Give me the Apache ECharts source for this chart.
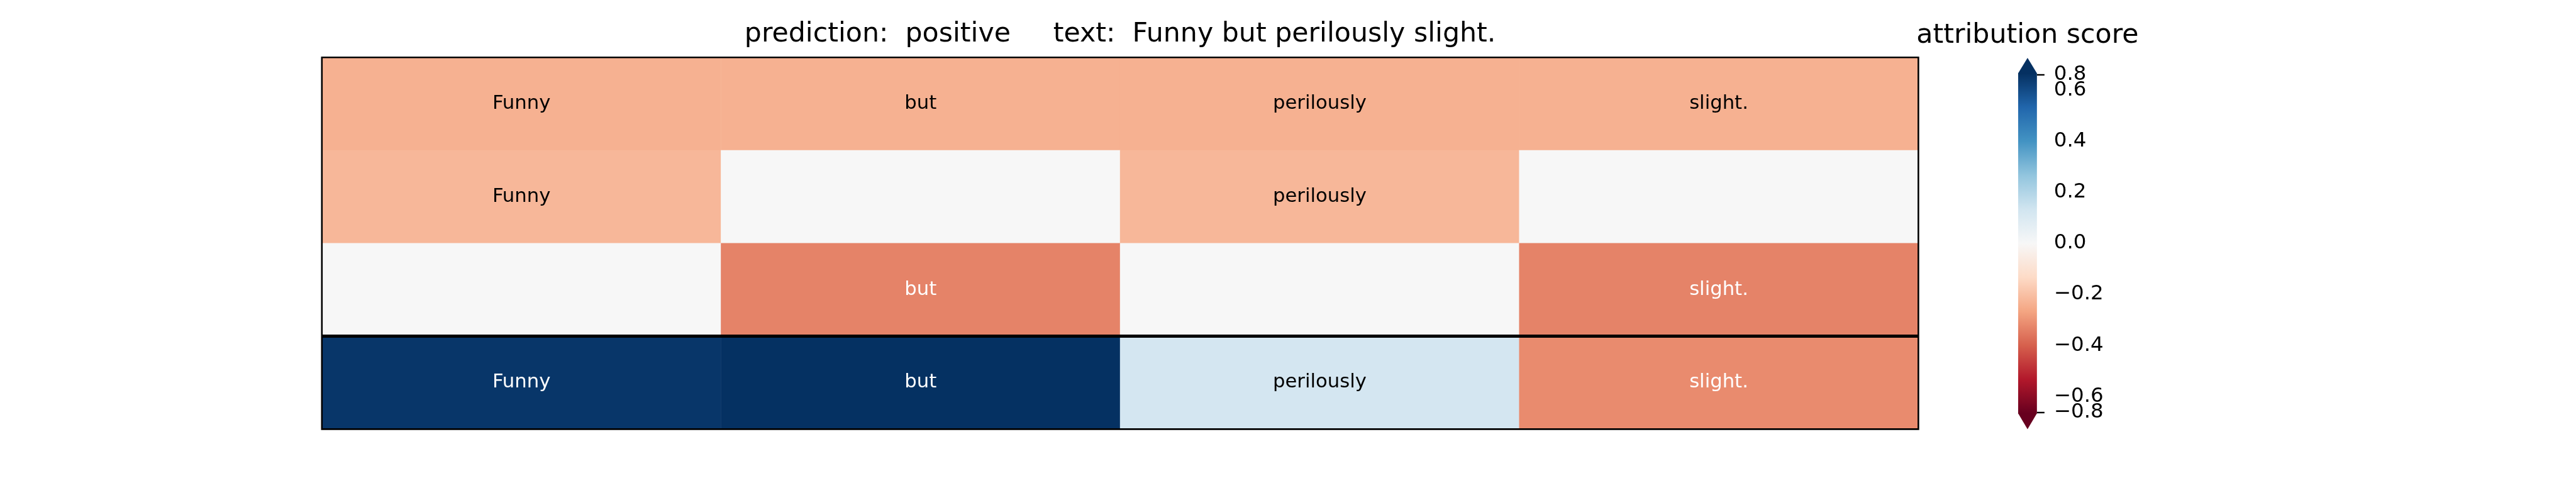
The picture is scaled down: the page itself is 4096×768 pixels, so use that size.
<!DOCTYPE html>
<html>
<head>
<meta charset="utf-8">
<script src="https://cdn.jsdelivr.net/npm/echarts@6/dist/echarts.min.js"></script>
<style>
html,body{margin:0;padding:0;background:#fff;}
#main{width:4096px;height:768px;}
</style>
</head>
<body>
<div id="main"></div>
<script>
// ---- data ----
const columns = ['0', '1', '2', '3'];
const rows = ['0', '1', '2', '3'];
const rowTokens = [
  ['Funny', 'but', 'perilously', 'slight.'],
  ['Funny', '', 'perilously', ''],
  ['', 'but', '', 'slight.'],
  ['Funny', 'but', 'perilously', 'slight.']
];
const rowScores = [
  [-0.237, -0.237, -0.237, -0.237],
  [-0.222, 0.0, -0.222, 0.0],
  [0.0, -0.332, 0.0, -0.332],
  [0.652, 0.665, 0.123, -0.317]
];
const colorbarTicks = [-0.8, -0.6, -0.4, -0.2, 0.0, 0.2, 0.4, 0.6, 0.8];
const titleText = 'prediction:  positive     text:  Funny but perilously slight.';
const colorbarTitle = 'attribution score';
const normMax = 0.667;
// RdBu colormap (low -> high)
const rdbu = ['#67001f', '#b2182b', '#d6604d', '#f4a582', '#fddbc7', '#f7f7f7',
  '#d1e5f0', '#92c5de', '#4393c3', '#2166ac', '#053061'];

// ---- layout ----
const S = 0.853;
const FONT = 'DejaVu Sans';
const gL = 600 * S, gT = 107 * S, gW = (3576 - 600) * S, gH = (800 - 107) * S;
const cbL = 3762 * S, cbR = 3797 * S, cbTop = 136.6 * S, cbBot = 770.6 * S;
const cbTipTop = 108 * S, cbTipBot = 800 * S;

const heatData = [];
rowScores.forEach((r, i) => r.forEach((v, j) => heatData.push({
  value: [j, i, v], token: rowTokens[i][j],
  label: { color: Math.abs(v) > 0.3 ? '#fff' : '#000' }
})));

// ticks outside the colour range are pinned to the bar ends (as in the source)
const clampLim = 0.662;
const inTicks = colorbarTicks.filter(v => Math.abs(v) <= normMax);
const outTicks = colorbarTicks.filter(v => Math.abs(v) > normMax);
const outPos = outTicks.map(v => Math.sign(v) * clampLim);
const fmtNum = t => (t < 0 ? '\u2212' : '') + Math.abs(t).toFixed(1);
const fmtOut = v => {
  const idx = outPos.findIndex(p => Math.abs(p - v) < 1e-6);
  return fmtNum(idx >= 0 ? outTicks[idx] : v);
};

const chart = echarts.init(document.getElementById('main'));
const cbH = cbTipBot - cbTipTop;
const gradStops = [{ offset: 0, color: rdbu[10] }, { offset: (cbTop - cbTipTop) / cbH, color: rdbu[10] }];
for (let k = 10; k >= 0; k--) {
  const off = (cbTop - cbTipTop) / cbH + ((10 - k) / 10) * (cbBot - cbTop) / cbH;
  gradStops.push({ offset: off, color: rdbu[k] });
}
gradStops.push({ offset: 1, color: rdbu[0] });
const cbMid = (cbL + cbR) / 2;

const cbAxisBase = {
  type: 'value', gridIndex: 1, position: 'right', min: -normMax, max: normMax,
  axisLine: { show: false }, splitLine: { show: false }
};

chart.setOption({
  animation: false,
  backgroundColor: '#fff',
  grid: [
    { left: gL, top: gT, width: gW, height: gH, show: true, borderColor: '#000', borderWidth: 2.6, backgroundColor: 'transparent', z: 5 },
    { left: cbL, top: cbTop, width: cbR - cbL, height: cbBot - cbTop, show: false }
  ],
  xAxis: [
    { type: 'category', data: columns, gridIndex: 0, show: false },
    { type: 'value', gridIndex: 1, show: false, min: 0, max: 1 }
  ],
  yAxis: [
    { type: 'category', data: rows, gridIndex: 0, inverse: true, show: false },
    Object.assign({}, cbAxisBase, {
      axisTick: { show: true, length: 12, customValues: inTicks, lineStyle: { color: '#000', width: 2.4 } },
      axisLabel: { show: true, margin: 27, customValues: inTicks, formatter: fmtNum, hideOverlap: false, color: '#000', fontFamily: FONT, fontSize: 32.5 }
    }),
    Object.assign({}, cbAxisBase, {
      axisTick: { show: true, length: 12, customValues: outPos, lineStyle: { color: '#000', width: 2.4 } },
      axisLabel: { show: true, margin: 27, customValues: outPos, formatter: fmtOut, hideOverlap: false, showMinLabel: true, showMaxLabel: true, color: '#000', fontFamily: FONT, fontSize: 32.5 }
    })
  ],
  visualMap: {
    show: false, type: 'continuous', seriesIndex: 0, dimension: 2,
    min: -normMax, max: normMax, inRange: { color: rdbu }
  },
  series: [{
    type: 'heatmap', xAxisIndex: 0, yAxisIndex: 0, data: heatData,
    label: {
      show: true, fontFamily: FONT, fontSize: 30.7,
      formatter: p => p.data.token
    },
    itemStyle: { borderWidth: 0 },
    emphasis: { disabled: true }
  }],
  graphic: [
    {
      type: 'text', x: gL + gW / 2, y: 55, z: 10,
      style: { text: titleText, font: '42.7px "DejaVu Sans"', fill: '#000', textAlign: 'center', textVerticalAlign: 'middle' }
    },
    {
      type: 'text', x: cbMid, y: 57, z: 10,
      style: { text: colorbarTitle, font: '42.7px "DejaVu Sans"', fill: '#000', textAlign: 'center', textVerticalAlign: 'middle' }
    },
    {
      type: 'line', z: 10,
      shape: { x1: gL, y1: gT + gH * 3 / 4, x2: gL + gW, y2: gT + gH * 3 / 4 },
      style: { stroke: '#000', lineWidth: 5 }
    },
    {
      type: 'polygon', z: 3,
      shape: { points: [[cbMid, cbTipTop], [cbR, cbTop], [cbR, cbBot], [cbMid, cbTipBot], [cbL, cbBot], [cbL, cbTop]] },
      style: {
        fill: { type: 'linear', x: 0, y: 0, x2: 0, y2: 1, colorStops: gradStops },
        stroke: null
      }
    }
  ]
});
</script>
</body>
</html>
